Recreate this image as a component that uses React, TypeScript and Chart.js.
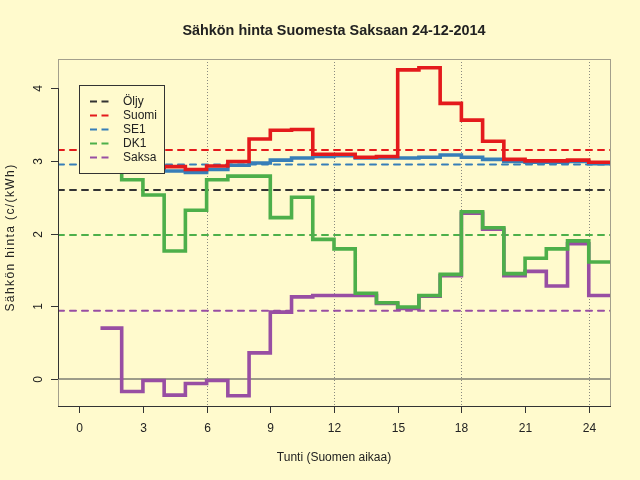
import { useEffect, useRef } from "react";
import { Chart, registerables } from "chart.js";

Chart.register(...registerables);

// hourly prices, c/kWh (hour h is drawn from h to h+1)
const hours = [1, 2, 3, 4, 5, 6, 7, 8, 9, 10, 11, 12, 13, 14, 15, 16, 17, 18, 19, 20, 21, 22, 23, 24];
const suomi = [2.95, 2.93, 2.91, 2.92, 2.88, 2.93, 2.99, 3.30, 3.42, 3.43, 3.09, 3.09, 3.05, 3.06, 4.25, 4.28, 3.79, 3.56, 3.27, 3.02, 3.00, 3.00, 3.01, 2.98];
const se1 = [2.92, 2.90, 2.88, 2.86, 2.84, 2.88, 2.94, 2.97, 3.01, 3.04, 3.06, 3.07, 3.04, 3.04, 3.04, 3.05, 3.08, 3.05, 3.02, 2.99, 2.98, 2.98, 2.99, 2.96];
const dk1 = [2.95, 2.74, 2.53, 1.76, 2.32, 2.74, 2.79, 2.79, 2.22, 2.50, 1.92, 1.79, 1.18, 1.05, 0.99, 1.15, 1.44, 2.30, 2.08, 1.45, 1.66, 1.79, 1.90, 1.61];
const saksa = [0.70, -0.17, -0.02, -0.22, -0.06, -0.02, -0.23, 0.36, 0.92, 1.13, 1.15, 1.15, 1.15, 1.04, 0.97, 1.14, 1.42, 2.28, 2.06, 1.42, 1.48, 1.28, 1.86, 1.15];

// reference levels (dashed)
const levelNames = ["Öljy", "Suomi", "SE1", "DK1", "Saksa"];
const levelValues = [2.60, 3.15, 2.95, 1.98, 0.94];
const levelColors = ["#333333", "#E41A1C", "#377EB8", "#4DAF4A", "#984EA3"];

const xTicks = [0, 3, 6, 9, 12, 15, 18, 21, 24];
const yTicks = [0, 1, 2, 3, 4];
const guideHours = [6, 12, 18, 24];

const BG = "#FFFACD";
const FONT = "'Liberation Sans', Arial, sans-serif";
const INK = "#222222";

const stepData = (vals: number[]) => {
  const pts = hours.map((h, i) => ({ x: h, y: vals[i] }));
  // close the last hour
  pts.push({ x: hours[hours.length - 1] + 1, y: vals[vals.length - 1] });
  return pts;
};

const rPlot = {
  id: "rPlot",
  beforeDraw(chart: any) {
    const ctx = chart.ctx;
    ctx.save();
    ctx.fillStyle = BG;
    ctx.fillRect(0, 0, chart.width, chart.height);
    ctx.restore();
  },
  beforeDatasetsDraw(chart: any) {
    const { ctx, chartArea: a, scales } = chart;
    const xs = scales.x;
    const ys = scales.y;
    ctx.save();
    ctx.strokeStyle = "#8a8a80";
    ctx.lineWidth = 1;
    ctx.setLineDash([1, 2]);
    guideHours.forEach((h) => {
      const x = Math.round(xs.getPixelForValue(h)) + 0.5;
      ctx.beginPath();
      ctx.moveTo(x, a.top);
      ctx.lineTo(x, a.bottom);
      ctx.stroke();
    });
    ctx.setLineDash([]);
    ctx.strokeStyle = "#7d7d72";
    ctx.lineWidth = 1.5;
    const y0 = ys.getPixelForValue(0);
    ctx.beginPath();
    ctx.moveTo(a.left, y0);
    ctx.lineTo(a.right, y0);
    ctx.stroke();
    ctx.restore();
  },
  afterDatasetsDraw(chart: any) {
    const { ctx, chartArea: a } = chart;
    const lx = a.left + 21;
    const ly = a.top + 26;
    ctx.save();
    ctx.fillStyle = BG;
    ctx.fillRect(lx, ly, 85, 88);
    ctx.strokeStyle = "#333333";
    ctx.lineWidth = 1;
    ctx.strokeRect(lx + 0.5, ly + 0.5, 85, 88);
    ctx.font = `12px ${FONT}`;
    ctx.textBaseline = "middle";
    ctx.textAlign = "left";
    levelNames.forEach((name, i) => {
      const y = ly + 16.5 + i * 14;
      ctx.strokeStyle = levelColors[i];
      ctx.lineWidth = 2;
      ctx.setLineDash([7, 4.5]);
      ctx.beginPath();
      ctx.moveTo(lx + 11, y);
      ctx.lineTo(lx + 29.5, y);
      ctx.stroke();
      ctx.fillStyle = INK;
      ctx.fillText(name, lx + 44, y + 0.5);
    });
    ctx.restore();
  },
  afterDraw(chart: any) {
    const { ctx, chartArea: a, scales } = chart;
    const xs = scales.x;
    const ys = scales.y;
    ctx.save();
    // box
    ctx.strokeStyle = "#a39f8c";
    ctx.lineWidth = 1;
    ctx.strokeRect(a.left + 0.5, a.top + 0.5, a.right - a.left, a.bottom - a.top);
    // axes
    ctx.strokeStyle = "#333333";
    ctx.beginPath();
    ctx.moveTo(a.left, a.bottom + 0.5);
    ctx.lineTo(a.right + 1, a.bottom + 0.5);
    ctx.moveTo(a.left + 0.5, ys.getPixelForValue(yTicks[0]));
    ctx.lineTo(a.left + 0.5, ys.getPixelForValue(yTicks[yTicks.length - 1]));
    ctx.stroke();
    ctx.font = `12px ${FONT}`;
    ctx.fillStyle = INK;
    ctx.textAlign = "center";
    ctx.textBaseline = "alphabetic";
    xTicks.forEach((t) => {
      const x = Math.round(xs.getPixelForValue(t)) + 0.5;
      ctx.beginPath();
      ctx.moveTo(x, a.bottom);
      ctx.lineTo(x, a.bottom + 7);
      ctx.stroke();
      ctx.fillText(String(t), x, a.bottom + 26);
    });
    yTicks.forEach((t) => {
      const y = Math.round(ys.getPixelForValue(t)) + 0.5;
      ctx.beginPath();
      ctx.moveTo(a.left - 7, y);
      ctx.lineTo(a.left, y);
      ctx.stroke();
      ctx.save();
      ctx.translate(a.left - 16.5, y);
      ctx.rotate(-Math.PI / 2);
      ctx.fillText(String(t), 0, 0);
      ctx.restore();
    });
    const cx = (a.left + a.right) / 2;
    ctx.fillText("Tunti (Suomen aikaa)", cx, 461);
    ctx.save();
    ctx.translate(14, (a.top + a.bottom) / 2 + 5);
    ctx.rotate(-Math.PI / 2);
    ctx.letterSpacing = "1.4px";
    ctx.fillText("Sähkön hinta (c/(kWh)", 0, 0);
    ctx.restore();
    ctx.font = `bold 14.4px ${FONT}`;
    ctx.fillText("Sähkön hinta Suomesta Saksaan 24-12-2014", cx, 35);
    ctx.restore();
  },
};

export default function App() {
  const canvasRef = useRef<HTMLCanvasElement>(null);

  useEffect(() => {
    const canvas = canvasRef.current;
    if (!canvas) return;
    Chart.getChart(canvas)?.destroy();

    const levelSets = levelValues.map((v, i) => ({
      label: levelNames[i] + " taso",
      data: [{ x: -1, y: v }, { x: 26, y: v }],
      borderColor: levelColors[i],
      borderWidth: 2,
      borderDash: [6, 6],
      borderCapStyle: "round" as const,
      pointRadius: 0,
      order: 10,
    }));

    const step = (label: string, vals: number[], color: string, order: number) => ({
      label,
      data: stepData(vals),
      borderColor: color,
      borderWidth: 3.6,
      stepped: "before" as const,
      pointRadius: 0,
      order,
    });

    const chart = new Chart(canvas, {
      type: "line",
      data: {
        datasets: [
          ...levelSets,
          step("Saksa", saksa, "#984EA3", 5),
          step("DK1", dk1, "#4DAF4A", 4),
          step("SE1", se1, "#377EB8", 3),
          step("Suomi", suomi, "#E41A1C", 2),
        ],
      },
      options: {
        responsive: false,
        animation: false,
        layout: { padding: { left: 58, top: 59, right: 30, bottom: 74 } },
        plugins: { legend: { display: false }, tooltip: { enabled: false }, title: { display: false } },
        scales: {
          x: { type: "linear", min: -1, max: 25, display: false },
          y: { type: "linear", min: -0.37, max: 4.4, display: false },
        },
      },
      plugins: [rPlot],
    });

    return () => chart.destroy();
  }, []);

  return (
    <div style={{ position: "absolute", left: 0, top: 0, width: 640, height: 480 }}>
      <canvas ref={canvasRef} width={640} height={480} style={{ display: "block" }} />
    </div>
  );
}
